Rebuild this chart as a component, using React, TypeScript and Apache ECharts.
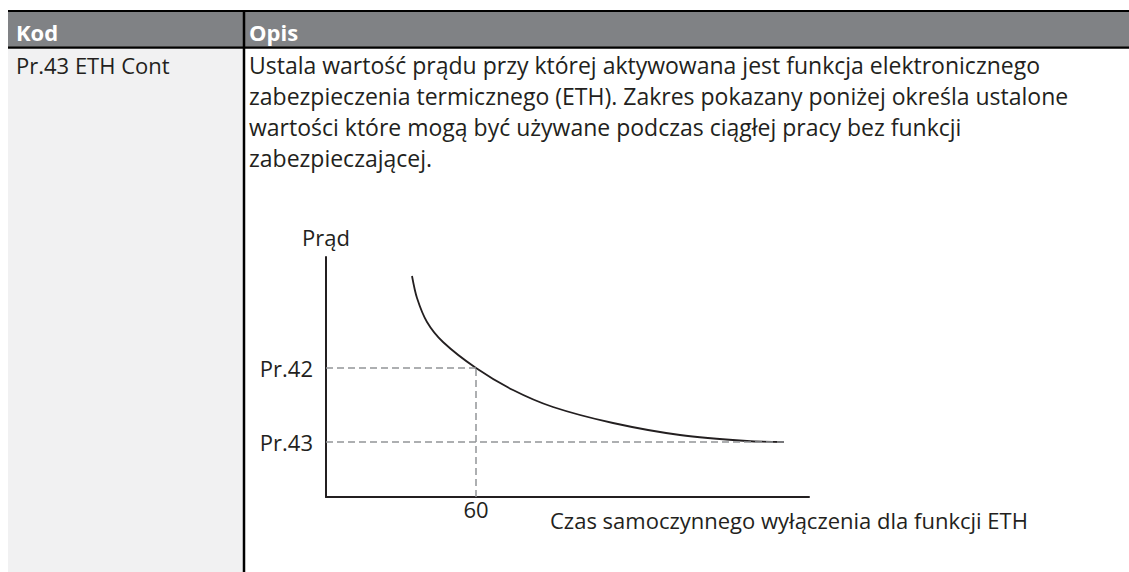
import React, { useEffect, useRef } from "react";
import * as echarts from "echarts";

// ---- data ----
const HEADER_LABELS = ["Kod", "Opis"];
const ROW_CODE = "Pr.43 ETH Cont";
const DESCRIPTION_LINES = [
  "Ustala wartość prądu przy której aktywowana jest funkcja elektronicznego",
  "zabezpieczenia termicznego (ETH). Zakres pokazany poniżej określa ustalone",
  "wartości które mogą być używane podczas ciągłej pracy bez funkcji",
  "zabezpieczającej.",
];
const Y_AXIS_NAME = "Prąd";
const X_AXIS_NAME = "Czas samoczynnego wyłączenia dla funkcji ETH";

// curve: time (x) vs current (y), in diagram units
const CURVE_TIME = [34.4, 36.4, 40.4, 46.8, 60, 74.8, 90.8, 114.8, 141.6, 168.4, 183.2];
const CURVE_CURRENT = [221, 199, 175, 155, 129, 107, 90, 74, 62, 56, 55];

const PR42_VALUE = 129;
const PR43_VALUE = 55;
const T60_VALUE = 60;
const Y_TICK_VALUES = [PR43_VALUE, PR42_VALUE];
const Y_TICK_LABELS = ["Pr.43", "Pr.42"];
const X_TICK_VALUES = [T60_VALUE];
const X_TICK_LABELS = ["60"];
const X_MAX = 193.2;
const Y_MAX = 240;

const FONT = "'Open Sans', 'Noto Sans', sans-serif";
const INK = "#231f20";
const DASH = "#939598";

export default function App() {
  const ref = useRef<HTMLDivElement>(null);

  useEffect(() => {
    if (!ref.current) return;
    const chart = echarts.init(ref.current, null, { renderer: "svg" });

    const curveData = CURVE_TIME.map((t, i) => [t, CURVE_CURRENT[i]]);
    const lastT = CURVE_TIME[CURVE_TIME.length - 1];

    const graphics: any[] = [
      { type: "rect", shape: { x: 8, y: 12, width: 1121, height: 34 }, style: { fill: "#808285" }, z: 0 },
      { type: "rect", shape: { x: 8, y: 49, width: 235, height: 523 }, style: { fill: "#f1f1f2" }, z: 0 },
      { type: "line", shape: { x1: 8, y1: 11, x2: 1129, y2: 11 }, style: { stroke: "#000", lineWidth: 2 }, z: 1 },
      { type: "line", shape: { x1: 8, y1: 47.5, x2: 1129, y2: 47.5 }, style: { stroke: "#000", lineWidth: 2.5 }, z: 1 },
      { type: "line", shape: { x1: 244, y1: 10, x2: 244, y2: 572 }, style: { stroke: "#000", lineWidth: 2.5 }, z: 1 },
      {
        type: "text", x: 16, y: 32, z: 2,
        style: { text: HEADER_LABELS[0], fill: "#fff", font: `bold 22px ${FONT}`, verticalAlign: "middle" },
      },
      {
        type: "text", x: 249, y: 32, z: 2,
        style: { text: HEADER_LABELS[1], fill: "#fff", font: `bold 22px ${FONT}`, verticalAlign: "middle" },
      },
      {
        type: "text", x: 16, y: 65, z: 2,
        style: { text: ROW_CODE, fill: INK, font: `22px ${FONT}`, verticalAlign: "middle" },
      },
      ...DESCRIPTION_LINES.map((line, i) => ({
        type: "text", x: 249, y: 65 + i * 31, z: 2,
        style: { text: line, fill: INK, font: `23px ${FONT}`, verticalAlign: "middle" },
      })),
      {
        type: "text", x: 550, y: 520, z: 2,
        style: { text: X_AXIS_NAME, fill: INK, font: `22px ${FONT}`, verticalAlign: "middle" },
      },
    ];

    chart.setOption({
      animation: false,
      grid: { left: 326, top: 257, width: 483, height: 240, containLabel: false, outerBoundsMode: "none" },
      xAxis: {
        type: "value", min: 0, max: X_MAX,
        axisLine: { show: true, lineStyle: { color: INK, width: 2 } },
        axisTick: { show: false },
        splitLine: { show: false },
        axisLabel: {
          customValues: X_TICK_VALUES,
          formatter: (v: number) => X_TICK_LABELS[X_TICK_VALUES.indexOf(v)] ?? "",
          color: INK, fontSize: 22, fontFamily: FONT, margin: 1,
        },
      },
      yAxis: {
        type: "value", min: 0, max: Y_MAX,
        name: Y_AXIS_NAME, nameLocation: "end", nameGap: 9,
        nameTextStyle: { color: INK, fontSize: 22, fontFamily: FONT },
        axisLine: { show: true, lineStyle: { color: INK, width: 2 } },
        axisTick: { show: false },
        splitLine: { show: false },
        axisLabel: {
          customValues: Y_TICK_VALUES,
          formatter: (v: number) => Y_TICK_LABELS[Y_TICK_VALUES.indexOf(v)] ?? "",
          color: INK, fontSize: 22, fontFamily: FONT, margin: 13,
        },
      },
      series: [
        {
          type: "line", data: [], z: 2, silent: true,
          markLine: {
            silent: true, symbol: "none", label: { show: false },
            lineStyle: { color: DASH, width: 1.5, type: [7, 4] },
            data: [
              [{ coord: [0, PR42_VALUE] }, { coord: [T60_VALUE, PR42_VALUE] }],
              [{ coord: [T60_VALUE, 0] }, { coord: [T60_VALUE, PR42_VALUE] }],
              [{ coord: [0, PR43_VALUE] }, { coord: [lastT, PR43_VALUE] }],
            ],
          },
        },
        {
          type: "line", data: curveData, z: 3, smooth: 0.3,
          showSymbol: false, silent: true,
          lineStyle: { color: INK, width: 1.8 },
        },
      ],
      graphic: graphics,
    });

    return () => chart.dispose();
  }, []);

  return (
    <div
      ref={ref}
      style={{ position: "fixed", left: 0, top: 0, width: 1129, height: 572, background: "#fff" }}
    />
  );
}
